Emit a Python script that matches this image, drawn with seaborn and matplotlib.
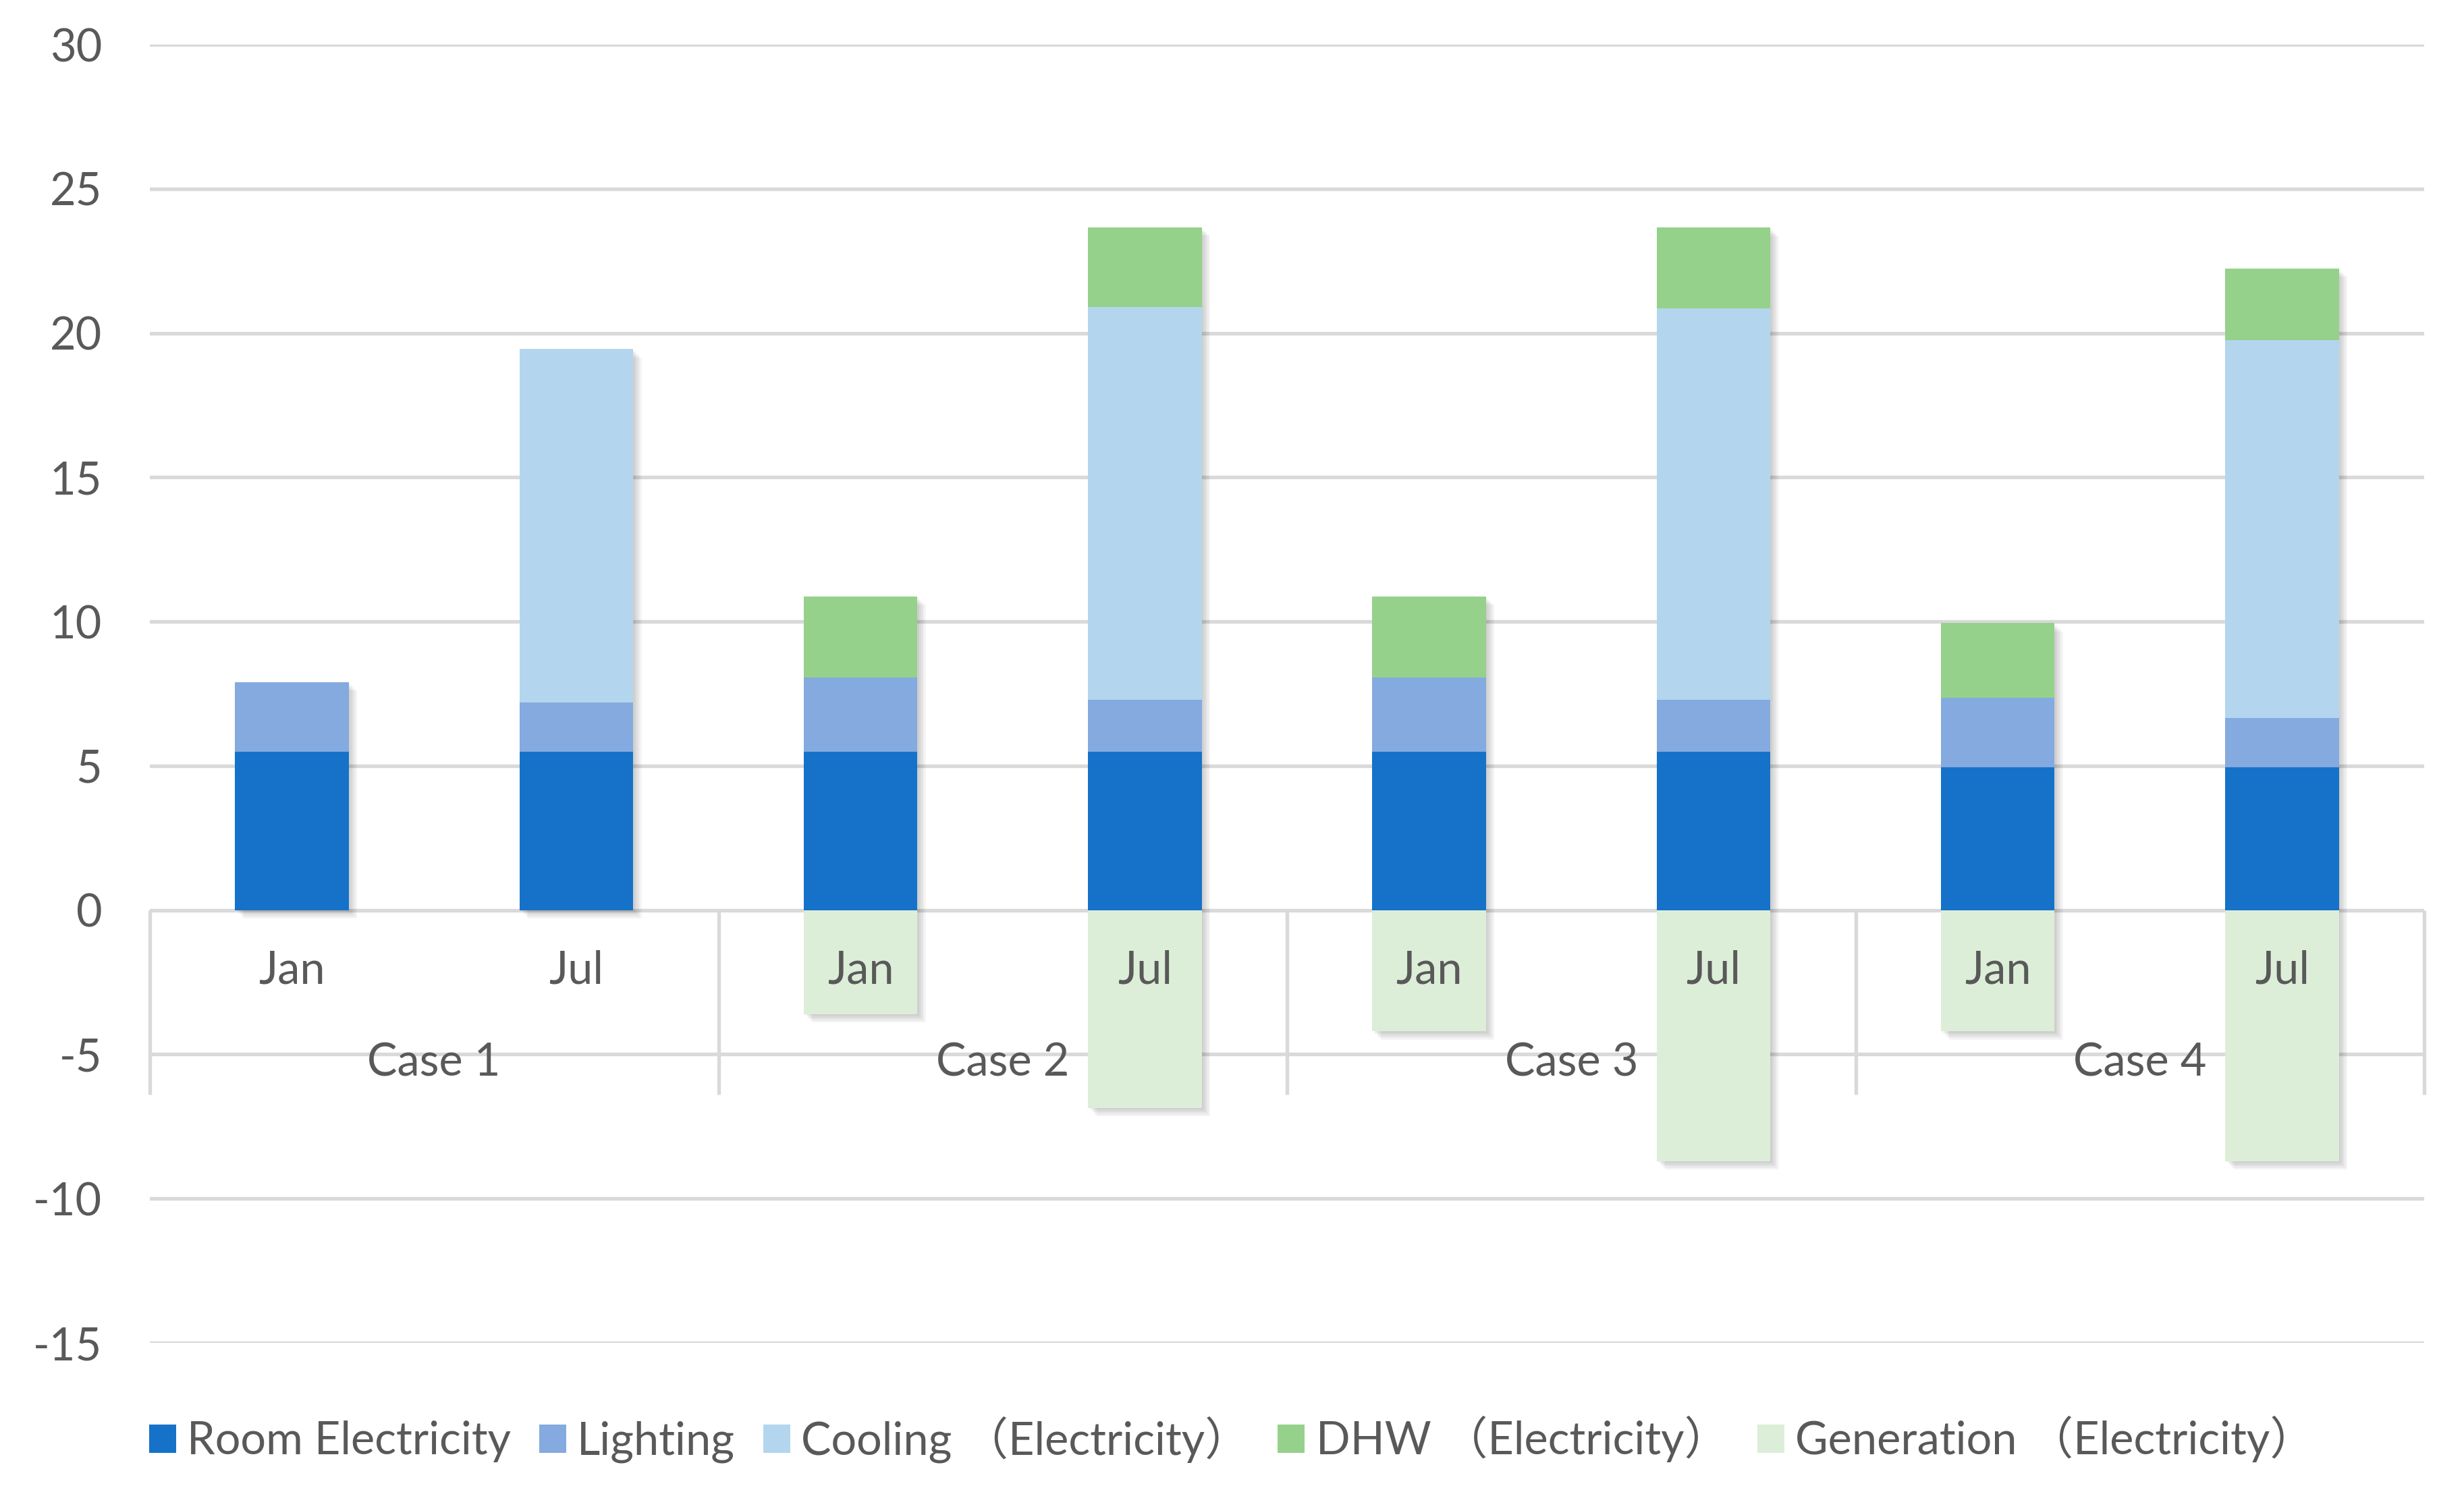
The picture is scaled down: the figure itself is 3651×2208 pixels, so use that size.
import numpy as np
import pandas as pd
import matplotlib
matplotlib.use('Agg')
import matplotlib.pyplot as plt
import matplotlib.patheffects as pe
from matplotlib.patches import Patch
import seaborn as sns

# Data
cases = ["Case 1", "Case 2", "Case 3", "Case 4"]
months = ["Jan", "Jul"]
room = [5.5, 5.5, 5.5, 5.5, 5.5, 5.5, 4.95, 4.95]
lighting = [2.4, 1.7, 2.55, 1.8, 2.55, 1.8, 2.4, 1.7]
cooling = [0, 12.25, 0, 13.6, 0, 13.55, 0, 13.1]
dhw = [0, 0, 2.82, 2.77, 2.82, 2.81, 2.6, 2.49]
generation = [0, 0, -3.6, -6.85, -4.2, -8.7, -4.2, -8.7]

series = ["Room Electricity", "Lighting", "Cooling （Electricity）",
          "DHW （Electricity）", "Generation （Electricity）"]
colors = ["#1672C9", "#84AADF", "#B3D6EE", "#95D18A", "#DCEED8"]
TXT = "#595959"
GRID = "#D9D9D9"

keys = [f"{c} {m}" for c in cases for m in months]
df = pd.DataFrame({"key": keys, "room": room, "lighting": lighting,
                   "cooling": cooling, "dhw": dhw, "generation": generation})
df["c1"] = df["room"]
df["c2"] = df["c1"] + df["lighting"]
df["c3"] = df["c2"] + df["cooling"]
df["c4"] = df["c3"] + df["dhw"]

sns.set_style("white")
plt.rcParams['font.family'] = ['Lato', 'Noto Sans CJK SC', 'DejaVu Sans']
plt.rcParams['axes.unicode_minus'] = False

fig = plt.figure(figsize=(3651 / 300, 2208 / 300), dpi=300)
ax = fig.add_axes([222 / 3651, 1 - 1990 / 2208, (3592 - 222) / 3651, (1990 - 66) / 2208])

shadow = [pe.SimplePatchShadow(offset=(o, -o), shadow_rgbFace='k', alpha=0.04)
          for o in (0.6, 1.2, 1.8, 2.4, 3.0)] + [pe.Normal()]


def bars(col, color, fx=False):
    n0 = len(ax.patches)
    sns.barplot(data=df, x="key", y=col, order=keys, color=color, width=0.4,
                saturation=1, errorbar=None, ax=ax, zorder=2,
                linewidth=0, edgecolor='none')
    if fx:
        for p in ax.patches[n0:]:
            p.set_path_effects(shadow)


# stacked positives drawn tallest first, then covered by lower layers
bars("c4", colors[3], fx=True)
bars("c3", colors[2])
bars("c2", colors[1])
bars("c1", colors[0])
bars("generation", colors[4], fx=True)

ax.set_xlim(-0.5, 7.5)
ax.set_ylim(-15, 30)
ax.set_yticks(range(-15, 31, 5))
ax.set_xticks([])
ax.set_xlabel("")
ax.set_ylabel("")
ax.tick_params(axis='y', length=0, pad=17, labelsize=16, labelcolor=TXT)
ax.yaxis.grid(True, color=GRID, lw=1.3)
ax.set_axisbelow(True)
for s in ax.spines.values():
    s.set_visible(False)

# multi-level category axis
ax.vlines([-0.5, 1.5, 3.5, 5.5, 7.5], -6.4, 0, color=GRID, lw=1.3, clip_on=False, zorder=1)
for i, k in enumerate(keys):
    ax.text(i, -2.1, months[i % 2], ha='center', va='center', fontsize=16, color=TXT, zorder=5)
for j, c in enumerate(cases):
    ax.text(2 * j + 0.5, -5.3, c, ha='center', va='center', fontsize=16, color=TXT, zorder=5)

handles = [Patch(facecolor=c, edgecolor='none') for c in colors]
fig.legend(handles, series, loc='center left', bbox_to_anchor=(0.044, 0.034), ncol=5,
           frameon=False, fontsize=16, labelcolor=TXT, handlelength=0.6, handleheight=0.6,
           handletextpad=0.25, columnspacing=0.62)

fig.savefig("out.png", dpi=300)
